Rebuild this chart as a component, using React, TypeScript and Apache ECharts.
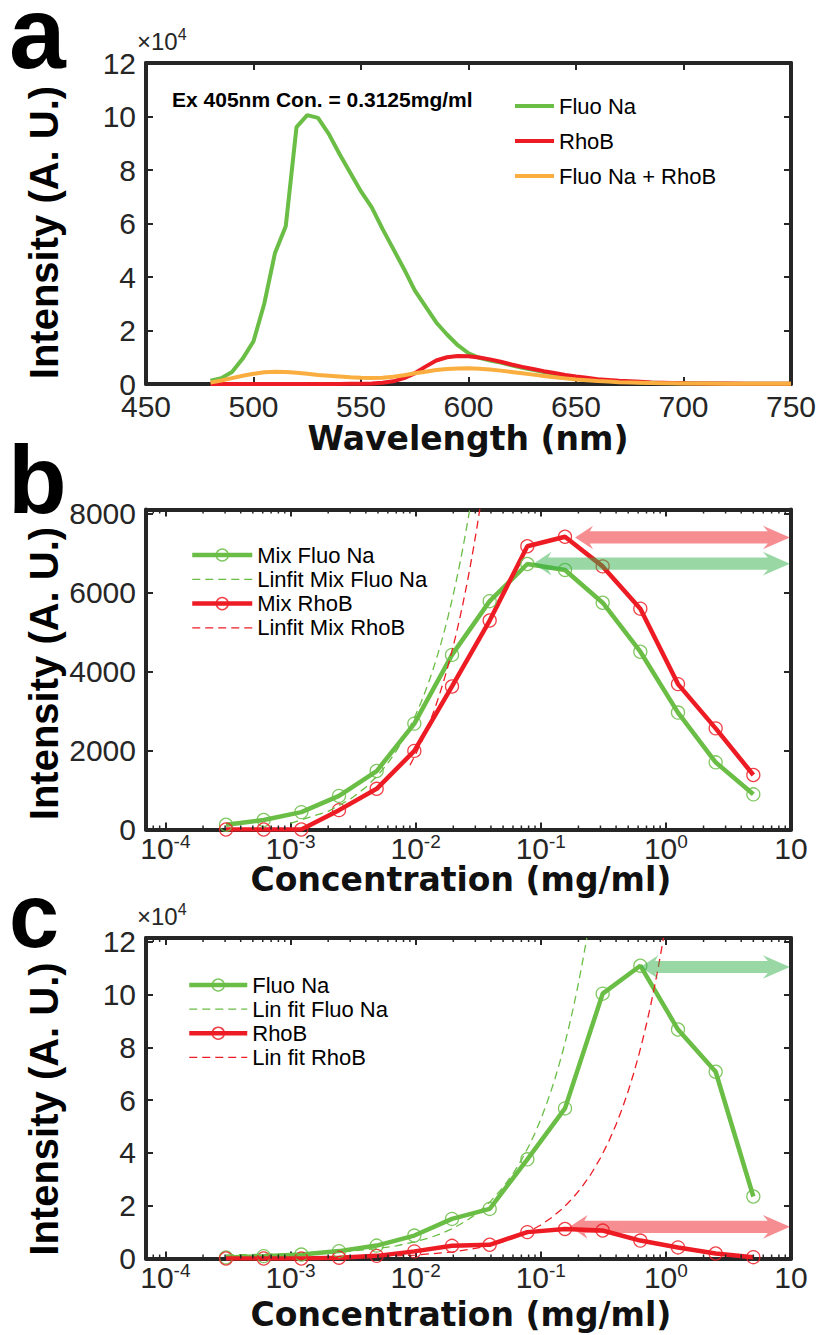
import React, { useEffect, useRef } from "react";
import * as echarts from "echarts";

// ---------- colours & fonts ----------
const GREEN = "#6abd45";
const RED = "#ed1c24";
const ORANGE = "#f9ae3f";
const AXIS = "#262626";
const SANS = "'Liberation Sans', Arial, Helvetica, sans-serif";
const HEAVY = "'DejaVu Sans', Verdana, sans-serif";

// ---------- panel a : emission spectra (values in 10^4 A.U.) ----------
const wavelengths = [
  480, 485, 490, 495, 500, 505, 510, 515, 520, 525,
  530, 535, 540, 545, 550, 555, 560, 565, 570, 575,
  580, 585, 590, 595, 600, 605, 610, 615, 620, 625,
  630, 635, 640, 645, 650, 655, 660, 665, 670, 675,
  680, 685, 690, 695, 700, 710, 720, 730, 740, 750,
];
const fluoNaSpectrum = [
  0.12, 0.22, 0.45, 0.95, 1.6, 3.0, 4.9, 5.9, 9.6, 10.05,
  9.95, 9.35, 8.6, 7.9, 7.2, 6.6, 5.8, 5.05, 4.3, 3.5,
  2.9, 2.3, 1.85, 1.45, 1.15, 0.98, 0.88, 0.8, 0.7, 0.61,
  0.53, 0.45, 0.38, 0.31, 0.25, 0.2, 0.16, 0.12, 0.1, 0.08,
  0.06, 0.05, 0.04, 0.03, 0.03, 0.02, 0.01, 0.01, 0.01, 0.01,
];
const rhoBSpectrum = [
  0, 0, 0, 0, 0, 0, 0, 0, 0, 0,
  0, 0, 0, 0.01, 0.01, 0.02, 0.05, 0.1, 0.22, 0.4,
  0.65, 0.88, 1.0, 1.05, 1.04, 0.99, 0.92, 0.83, 0.73, 0.64,
  0.56, 0.48, 0.41, 0.34, 0.28, 0.23, 0.18, 0.15, 0.12, 0.1,
  0.08, 0.06, 0.05, 0.04, 0.03, 0.02, 0.02, 0.01, 0.01, 0.01,
];
const mixSpectrum = [
  0.05, 0.13, 0.22, 0.31, 0.38, 0.44, 0.46, 0.45, 0.42, 0.38,
  0.34, 0.31, 0.28, 0.25, 0.23, 0.22, 0.23, 0.27, 0.33, 0.4,
  0.46, 0.52, 0.56, 0.58, 0.59, 0.57, 0.54, 0.5, 0.45, 0.4,
  0.35, 0.3, 0.25, 0.21, 0.17, 0.14, 0.11, 0.09, 0.07, 0.06,
  0.05, 0.04, 0.03, 0.03, 0.02, 0.02, 0.01, 0.01, 0.01, 0.01,
];
const wavelengthTicks = [450, 500, 550, 600, 650, 700, 750];
const intensityTicksA = [0, 2, 4, 6, 8, 10, 12];

// ---------- shared concentrations (mg/ml) ----------
const concentrations = [
  0.00030518, 0.00061035, 0.0012207, 0.0024414, 0.0048828, 0.0097656, 0.019531,
  0.039063, 0.078125, 0.15625, 0.3125, 0.625, 1.25, 2.5, 5,
];
const concRange = [7e-5, 10];
const logTickExponents = [-4, -3, -2, -1, 0, 1];
const minorTickMultipliers = [2, 3, 4, 5, 6, 7, 8, 9];

// ---------- panel b ----------
const mixFluoNa = [120, 240, 440, 850, 1480, 2680, 4420, 5780, 6720, 6570, 5740, 4500, 2960, 1700, 890];
const mixRhoB = [0, 0, 0, 490, 1030, 1990, 3620, 5290, 7170, 7410, 6660, 5590, 3680, 2560, 1380];
const linfitMixFluoNaX = [
  0.001, 0.002, 0.003, 0.004, 0.005, 0.006, 0.007, 0.008, 0.009, 0.01, 0.011, 0.012, 0.013, 0.014,
  0.015, 0.016, 0.017, 0.018, 0.019, 0.02, 0.021, 0.022, 0.023, 0.024, 0.025, 0.026, 0.027,
];
const linfitMixFluoNaY = [
  155, 460, 765, 1070, 1375, 1680, 1985, 2290, 2595, 2900, 3205, 3510, 3815, 4120,
  4425, 4730, 5035, 5340, 5645, 5950, 6255, 6560, 6865, 7170, 7475, 7780, 8085,
];
const linfitMixRhoBX = [
  0.009, 0.01, 0.011, 0.012, 0.013, 0.014, 0.015, 0.016, 0.017, 0.018, 0.019, 0.02, 0.021,
  0.022, 0.023, 0.024, 0.025, 0.026, 0.027, 0.028, 0.029, 0.03, 0.031, 0.032, 0.0326,
];
const linfitMixRhoBY = [
  1625, 1900, 2175, 2450, 2725, 3000, 3275, 3550, 3825, 4100, 4375, 4650, 4925,
  5200, 5475, 5750, 6025, 6300, 6575, 6850, 7125, 7400, 7675, 7950, 8115,
];
const intensityTicksB = [0, 2000, 4000, 6000, 8000];
const yMaxB = 8100;
const arrowStartB = [0.188, 0.0874];
const arrowLevelB = [7392, 6729];

// ---------- panel c (values in 10^4 A.U.) ----------
const fluoNa = [0.04, 0.09, 0.15, 0.28, 0.49, 0.87, 1.5, 1.88, 3.76, 5.69, 10.04, 11.1, 8.68, 7.08, 2.35];
const rhoB = [0, 0, 0, 0.03, 0.1, 0.27, 0.48, 0.52, 1.0, 1.12, 1.06, 0.68, 0.42, 0.19, 0.05];
const linFitFluoNaX = [
  0.000305, 0.001, 0.002, 0.003, 0.005, 0.007, 0.01, 0.013, 0.016, 0.02, 0.025, 0.03, 0.035, 0.04,
  0.05, 0.06, 0.07, 0.08, 0.09, 0.1, 0.11, 0.12, 0.13, 0.14, 0.15, 0.16, 0.17, 0.18, 0.19, 0.2,
  0.21, 0.22, 0.2333,
];
const linFitFluoNaY = [
  0.136, 0.172, 0.223, 0.275, 0.378, 0.481, 0.636, 0.79, 0.945, 1.151, 1.409, 1.667, 1.925, 2.183,
  2.699, 3.214, 3.73, 4.246, 4.761, 5.277, 5.793, 6.308, 6.824, 7.34, 7.856, 8.371, 8.887, 9.403,
  9.918, 10.434, 10.95, 11.465, 12.151,
];
const linFitRhoBX = [
  0.000305, 0.003, 0.01, 0.02, 0.03, 0.04, 0.05, 0.06, 0.08, 0.1, 0.12, 0.15, 0.18, 0.21, 0.25,
  0.3, 0.35, 0.4, 0.45, 0.5, 0.55, 0.6, 0.65, 0.7, 0.75, 0.8, 0.85, 0.9, 0.957,
];
const linFitRhoBY = [
  0.004, 0.038, 0.127, 0.254, 0.381, 0.508, 0.635, 0.762, 1.016, 1.27, 1.524, 1.905, 2.286, 2.667,
  3.175, 3.81, 4.445, 5.08, 5.715, 6.35, 6.985, 7.62, 8.255, 8.89, 9.525, 10.16, 10.795, 11.43, 12.154,
];
const intensityTicksC = [0, 2, 4, 6, 8, 10, 12];
const yMaxC = 12.15;
const arrowStartC = [0.625, 0.17];
const arrowLevelC = [11.05, 1.2];
const arrowEnd = 9.8;

// ---------- helpers ----------
const pairs = (xs: number[], ys: number[]) => xs.map((x, i) => [x, ys[i]]);

const minorTickValues: number[] = [];
[-5, -4, -3, -2, -1, 0].forEach((k) =>
  minorTickMultipliers.forEach((m) => {
    const v = m * Math.pow(10, k);
    if (v > concRange[0] && v < concRange[1]) minorTickValues.push(v);
  })
);

const axisLine = { show: true, onZero: false, lineStyle: { color: AXIS, width: 4 } };
const axisTick = { show: true, inside: true, length: 7, lineStyle: { color: AXIS, width: 2 } };

const logLabel = (v: number) => {
  const l = Math.log10(v);
  const e = Math.round(l);
  if (Math.abs(l - e) > 1e-6 || logTickExponents.indexOf(e) < 0) return "";
  if (e === 1) return "{b|10}";
  return `{b|10}{s|${e}}`;
};

const logX = (gridIndex: number, position: string, labels: boolean) => ({
  type: "log",
  logBase: 10,
  gridIndex,
  position,
  min: concRange[0],
  max: concRange[1],
  axisLine,
  axisTick,
  splitLine: { show: false },
  axisLabel: labels
    ? {
        show: true,
        margin: 2,
        formatter: logLabel,
        showMinLabel: false,
        rich: {
          b: { fontSize: 30, lineHeight: 34, fontFamily: SANS, color: AXIS },
          s: { fontSize: 19, lineHeight: 19, verticalAlign: "top", fontFamily: SANS, color: AXIS },
        },
      }
    : { show: false },
});

const valY = (gridIndex: number, position: string, ticks: number[], max: number, labels: boolean) => ({
  type: "value",
  gridIndex,
  position,
  min: ticks[0],
  max,
  interval: ticks[1] - ticks[0],
  axisLine,
  axisTick,
  splitLine: { show: false },
  axisLabel: labels
    ? {
        show: true,
        margin: 10,
        fontSize: 30,
        lineHeight: 30,
        fontFamily: SANS,
        color: AXIS,
        showMaxLabel: max === ticks[ticks.length - 1],
        formatter: (v: number) => (ticks.indexOf(Math.round(v * 1000) / 1000) >= 0 ? String(v) : ""),
      }
    : { show: false },
});

const minorTickSeries = (axisIndex: number) => ({
  type: "custom",
  xAxisIndex: axisIndex,
  yAxisIndex: axisIndex,
  silent: true,
  z: 4,
  encode: { x: 0, y: 1 },
  data: minorTickValues.map((v) => [v, 1]),
  renderItem: (params: any, api: any) => {
    const x = api.coord([api.value(0), 1])[0];
    const cs = params.coordSys;
    const yb = cs.y + cs.height;
    const yt = cs.y;
    return {
      type: "group",
      children: [
        { type: "line", shape: { x1: x, y1: yb, x2: x, y2: yb - 4 }, style: { stroke: AXIS, lineWidth: 1.5 } },
        { type: "line", shape: { x1: x, y1: yt, x2: x, y2: yt + 4 }, style: { stroke: AXIS, lineWidth: 1.5 } },
      ],
    };
  },
});

const arrowSeries = (axisIndex: number, starts: number[], levels: number[], colors: string[]) => ({
  type: "custom",
  xAxisIndex: axisIndex,
  yAxisIndex: axisIndex,
  silent: true,
  z: 5,
  encode: { x: [0, 1], y: 2 },
  data: starts.map((s, i) => ({ value: [s, arrowEnd, levels[i]], itemStyle: { color: colors[i] } })),
  renderItem: (params: any, api: any) => {
    const y = api.value(2);
    const p1 = api.coord([api.value(0), y]);
    const p2 = api.coord([api.value(1), y]);
    const x1 = p1[0];
    const cy = p1[1];
    const x2 = p2[0];
    const sh = 6.1, hh = 11.8, l1 = 18, l2 = 27;
    const pts = [
      [x1, cy], [x1 + l1, cy - hh], [x1 + l1 * 0.82, cy - sh], [x2 - l2 * 0.82, cy - sh], [x2 - l2, cy - hh],
      [x2, cy], [x2 - l2, cy + hh], [x2 - l2 * 0.82, cy + sh], [x1 + l1 * 0.82, cy + sh], [x1 + l1, cy + hh],
    ];
    return { type: "polygon", shape: { points: pts }, style: { fill: api.visual("color") } };
  },
});

const markerLine = (name: string, color: string, data: number[][], axisIndex: number) => ({
  type: "line",
  name,
  xAxisIndex: axisIndex,
  yAxisIndex: axisIndex,
  data,
  color,
  symbol: "circle",
  symbolSize: 13,
  showSymbol: true,
  showAllSymbol: true,
  lineStyle: { color, width: 4.5 },
  itemStyle: { color: "rgba(255,255,255,0)", borderColor: color, borderWidth: 1.3, opacity: 0.85 },
  emphasis: { disabled: true },
  z: 2,
});

const dashLine = (name: string, color: string, data: number[][], axisIndex: number) => ({
  type: "line",
  name,
  xAxisIndex: axisIndex,
  yAxisIndex: axisIndex,
  data,
  color,
  symbol: "none",
  smooth: false,
  lineStyle: { color, width: 1.3, type: [8, 5] },
  emphasis: { disabled: true },
  z: 3,
});

const legendMarkerItem = (name: string, color: string) => ({
  name,
  itemStyle: { color: "rgba(255,255,255,0)", borderColor: color, borderWidth: 1.5 },
  lineStyle: { color, width: 4.5, type: "solid" },
});
const legendDashItem = (name: string, color: string) => ({
  name,
  itemStyle: { opacity: 0 },
  lineStyle: { color, width: 1.3, type: [8, 5] },
});
const legendPlainItem = (name: string, color: string) => ({
  name,
  itemStyle: { opacity: 0 },
  lineStyle: { color, width: 4, type: "solid" },
});

const legendText = { fontSize: 22, fontFamily: SANS, color: "#000", lineHeight: 22 };

const yTitle = (y: number) => ({
  type: "text",
  x: 44,
  y,
  rotation: Math.PI / 2,
  style: {
    text: "Intensity (A. U.)",
    font: `bold 40px ${SANS}`,
    lineHeight: 34,
    fill: "#000",
    textAlign: "center",
    textVerticalAlign: "middle",
  },
});
const xTitle = (text: string, x: number, y: number) => ({
  type: "text",
  x,
  y,
  style: {
    text,
    font: `bold 33px ${HEAVY}`,
    lineHeight: 26,
    fill: "#111",
    textAlign: "center",
    textVerticalAlign: "middle",
  },
});
const panelLetter = (text: string, x: number, y: number, size: number) => ({
  type: "text",
  x,
  y,
  style: {
    text,
    font: `bold ${size}px ${SANS}`,
    lineHeight: 58,
    fill: "#000",
    textAlign: "left",
    textVerticalAlign: "middle",
  },
});
const exponentLabel = (y: number) => ({
  type: "text",
  x: 137,
  y,
  style: {
    text: "{b|\u00d710}{s|4}",
    textAlign: "left",
    textVerticalAlign: "middle",
    rich: {
      b: { fontSize: 24, lineHeight: 30, fontFamily: SANS, fill: AXIS },
      s: { fontSize: 16, lineHeight: 17, verticalAlign: "top", fontFamily: SANS, fill: AXIS },
    },
  },
});

function buildOption() {
  return {
    animation: false,
    backgroundColor: "#ffffff",
    grid: [
      { left: 146, top: 63, width: 645, height: 321, outerBoundsMode: "none" },
      { left: 146, top: 509.5, width: 645, height: 320, outerBoundsMode: "none" },
      { left: 146, top: 938, width: 645, height: 320.5, outerBoundsMode: "none" },
    ],
    xAxis: [
      {
        type: "value",
        gridIndex: 0,
        position: "bottom",
        min: wavelengthTicks[0],
        max: wavelengthTicks[wavelengthTicks.length - 1],
        interval: wavelengthTicks[1] - wavelengthTicks[0],
        axisLine,
        axisTick,
        splitLine: { show: false },
        axisLabel: { show: true, margin: 10, fontSize: 30, lineHeight: 24, fontFamily: SANS, color: AXIS },
      },
      {
        type: "value",
        gridIndex: 0,
        position: "top",
        min: wavelengthTicks[0],
        max: wavelengthTicks[wavelengthTicks.length - 1],
        interval: wavelengthTicks[1] - wavelengthTicks[0],
        axisLine,
        axisTick,
        splitLine: { show: false },
        axisLabel: { show: false },
      },
      logX(1, "bottom", true),
      logX(1, "top", false),
      logX(2, "bottom", true),
      logX(2, "top", false),
    ],
    yAxis: [
      valY(0, "left", intensityTicksA, intensityTicksA[intensityTicksA.length - 1], true),
      valY(0, "right", intensityTicksA, intensityTicksA[intensityTicksA.length - 1], false),
      valY(1, "left", intensityTicksB, yMaxB, true),
      valY(1, "right", intensityTicksB, yMaxB, false),
      valY(2, "left", intensityTicksC, yMaxC, true),
      valY(2, "right", intensityTicksC, yMaxC, false),
    ],
    legend: [
      {
        left: 513,
        top: 95,
        orient: "vertical",
        padding: 0,
        itemGap: 13,
        itemWidth: 39,
        itemHeight: 15,
        selectedMode: false,
        textStyle: legendText,
        data: [
          legendPlainItem("Fluo Na", GREEN),
          legendPlainItem("RhoB", RED),
          legendPlainItem("Fluo Na + RhoB", ORANGE),
        ],
      },
      {
        left: 190,
        top: 544,
        orient: "vertical",
        padding: 0,
        itemGap: 2.3,
        itemWidth: 60,
        itemHeight: 15,
        selectedMode: false,
        textStyle: legendText,
        data: [
          legendMarkerItem("Mix Fluo Na", GREEN),
          legendDashItem("Linfit Mix Fluo Na", GREEN),
          legendMarkerItem("Mix RhoB", RED),
          legendDashItem("Linfit Mix RhoB", RED),
        ],
      },
      {
        left: 187,
        top: 974,
        orient: "vertical",
        padding: 0,
        itemGap: 2.1,
        itemWidth: 58,
        itemHeight: 15,
        selectedMode: false,
        textStyle: legendText,
        data: [
          legendMarkerItem("Fluo Na ", GREEN),
          legendDashItem("Lin fit Fluo Na", GREEN),
          legendMarkerItem("RhoB ", RED),
          legendDashItem("Lin fit RhoB", RED),
        ],
      },
    ],
    series: [
      // panel a
      {
        type: "line", name: "Fluo Na", xAxisIndex: 0, yAxisIndex: 0, color: GREEN, symbol: "none",
        data: pairs(wavelengths, fluoNaSpectrum), lineStyle: { color: GREEN, width: 4 }, emphasis: { disabled: true },
      },
      {
        type: "line", name: "RhoB", xAxisIndex: 0, yAxisIndex: 0, color: RED, symbol: "none",
        data: pairs(wavelengths, rhoBSpectrum), lineStyle: { color: RED, width: 4 }, emphasis: { disabled: true },
      },
      {
        type: "line", name: "Fluo Na + RhoB", xAxisIndex: 0, yAxisIndex: 0, color: ORANGE, symbol: "none",
        data: pairs(wavelengths, mixSpectrum), lineStyle: { color: ORANGE, width: 4 }, emphasis: { disabled: true },
      },
      // panel b
      markerLine("Mix Fluo Na", GREEN, pairs(concentrations, mixFluoNa), 2),
      dashLine("Linfit Mix Fluo Na", GREEN, pairs(linfitMixFluoNaX, linfitMixFluoNaY), 2),
      markerLine("Mix RhoB", RED, pairs(concentrations, mixRhoB), 2),
      dashLine("Linfit Mix RhoB", RED, pairs(linfitMixRhoBX, linfitMixRhoBY), 2),
      minorTickSeries(2),
      arrowSeries(2, arrowStartB, arrowLevelB, ["rgba(237,28,36,0.5)", "rgba(52,178,74,0.5)"]),
      // panel c
      markerLine("Fluo Na ", GREEN, pairs(concentrations, fluoNa), 4),
      dashLine("Lin fit Fluo Na", GREEN, pairs(linFitFluoNaX, linFitFluoNaY), 4),
      markerLine("RhoB ", RED, pairs(concentrations, rhoB), 4),
      dashLine("Lin fit RhoB", RED, pairs(linFitRhoBX, linFitRhoBY), 4),
      minorTickSeries(4),
      arrowSeries(4, arrowStartC, arrowLevelC, ["rgba(52,178,74,0.5)", "rgba(237,28,36,0.5)"]),
    ],
    graphic: [
      panelLetter("a", 9, 33, 102),
      panelLetter("b", 8, 479, 96),
      panelLetter("c", 9, 916, 90),
      exponentLabel(41),
      exponentLabel(916),
      {
        type: "text",
        x: 172,
        y: 99,
        style: {
          text: "Ex 405nm Con. = 0.3125mg/ml",
          font: `bold 21px ${SANS}`,
          fill: "#000",
          textAlign: "left",
          textVerticalAlign: "middle",
        },
      },
      yTitle(232.5),
      yTitle(673.5),
      yTitle(1109),
      xTitle("Wavelength (nm)", 468, 438),
      xTitle("Concentration (mg/ml)", 461, 879),
      xTitle("Concentration (mg/ml)", 461, 1314),
    ],
  };
}

export default function App() {
  const ref = useRef<HTMLDivElement>(null);
  useEffect(() => {
    if (!ref.current) return;
    const chart = echarts.init(ref.current, null, { renderer: "svg" });
    chart.setOption(buildOption() as any);
    return () => chart.dispose();
  }, []);
  return (
    <div
      ref={ref}
      style={{ position: "absolute", left: 0, top: 0, width: 817, height: 1335, background: "#fff" }}
    />
  );
}
